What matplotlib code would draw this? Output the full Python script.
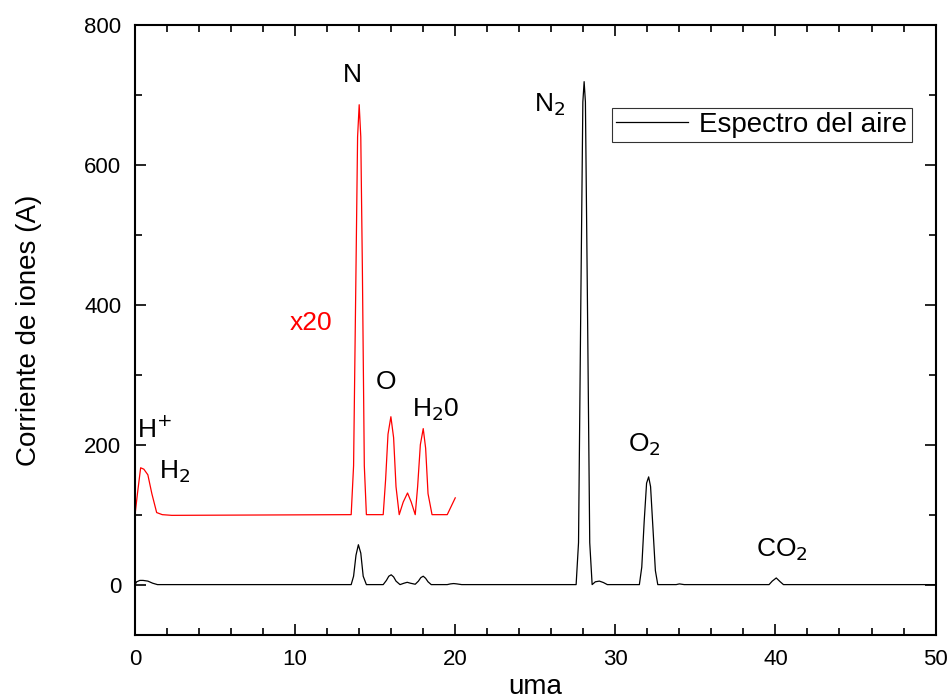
import numpy as np
import matplotlib
matplotlib.use("Agg")
from matplotlib import pyplot as plt
from matplotlib.ticker import MultipleLocator

plt.rcParams['font.family'] = ['Liberation Sans', 'DejaVu Sans']

# black curve: air spectrum (uma, current)
uma_aire = [0.0, 0.1, 0.3, 0.5, 0.8, 1.1, 1.4,
            13.5, 13.65, 13.8, 13.95, 14.1, 14.25, 14.45,
            15.5, 15.7, 15.85, 16.0, 16.15, 16.3, 16.55,
            16.8, 17.0, 17.2, 17.5,
            17.7, 17.85, 18.0, 18.15, 18.3, 18.5,
            19.5, 19.7, 19.9, 20.1, 20.4,
            27.55, 27.7, 27.85, 27.97, 28.05, 28.13, 28.25, 28.4, 28.55,
            28.75, 29.0, 29.25, 29.5,
            31.5, 31.65, 31.8, 31.95, 32.08, 32.2, 32.35, 32.5, 32.65,
            33.8, 34.0, 34.3,
            39.6, 39.8, 40.05, 40.3, 40.5, 50.0]
corr_aire = [0, 4, 6, 6, 5, 2, 0,
             0, 12, 42, 57, 45, 12, 0,
             0, 6, 12, 14, 11, 5, 0,
             2, 3.3, 2, 0.5,
             5, 10, 12, 9, 4, 0,
             0, 1, 1.5, 1, 0,
             0, 60, 420, 690, 719, 690, 420, 60, 0,
             4, 5, 3, 0,
             0, 25, 90, 145, 154, 140, 80, 20, 0,
             0, 1, 0,
             0, 5, 9.5, 4, 0, 0]

# red curve: zoomed low mass region (offset)
uma_x20 = [0.0, 0.15, 0.35, 0.55, 0.8, 1.05, 1.35, 1.7, 2.3,
           13.5, 13.65, 13.8, 13.9, 14.0, 14.1, 14.2, 14.32, 14.45,
           15.5, 15.65, 15.8, 15.98, 16.15, 16.3, 16.5,
           16.75, 17.02, 17.25, 17.5,
           17.65, 17.82, 18.0, 18.15, 18.3, 18.55,
           19.5, 19.75, 20.0]
corr_x20 = [100, 130, 167, 165, 157, 130, 103, 100, 99,
            100, 170, 450, 640, 686, 640, 450, 170, 100,
            100, 150, 215, 240, 210, 140, 100,
            118, 131, 118, 100,
            140, 200, 223, 195, 130, 100,
            100, 112, 124]

# peak labels
etiquetas = ['N', 'N$_2$', 'O', 'H$_2$0', 'H$^{+}$', 'H$_2$', 'O$_2$', 'CO$_2$']
etiq_x = [13.55, 25.9, 15.67, 18.8, 1.2, 2.5, 31.8, 40.4]
etiq_y = [729, 686, 289, 250, 221, 161, 200, 50]

fig = plt.figure(figsize=(9.53, 7.0), dpi=100)
ax = fig.add_axes([0.1417, 0.0929, 0.840, 0.8714])

ax.plot(uma_x20, corr_x20, color='#ff0000', lw=0.9)
ax.plot(uma_aire, corr_aire, color='black', lw=0.9, label='Espectro del aire')

for t, x, y in zip(etiquetas, etiq_x, etiq_y):
    ax.text(x, y, t, fontsize=19, ha='center', va='center')
ax.text(11.0, 374, 'x20', color='#ff0000', fontsize=19, ha='center', va='center')

ax.set_xlim(0, 50)
ax.set_ylim(-72, 800)
ax.xaxis.set_major_locator(MultipleLocator(10))
ax.xaxis.set_minor_locator(MultipleLocator(2))
ax.yaxis.set_major_locator(MultipleLocator(200))
ax.yaxis.set_minor_locator(MultipleLocator(100))
ax.tick_params(which='both', direction='in', top=True, right=True, width=1.2)
ax.tick_params(which='major', length=8, labelsize=16, pad=10)
ax.tick_params(which='minor', length=5)
for s in ax.spines.values():
    s.set_linewidth(1.5)

ax.set_xlabel('uma', fontsize=20, labelpad=3)
ax.set_ylabel('Corriente de iones (A)', fontsize=20, labelpad=30)

leg = ax.legend(loc='upper right', bbox_to_anchor=(0.970, 0.864), fontsize=20,
                frameon=True, fancybox=False, borderpad=0.15, handlelength=2.6,
                handletextpad=0.4, borderaxespad=0)
leg.get_frame().set_edgecolor('black')
leg.get_frame().set_linewidth(0.8)

plt.savefig('out.png', dpi=100)
